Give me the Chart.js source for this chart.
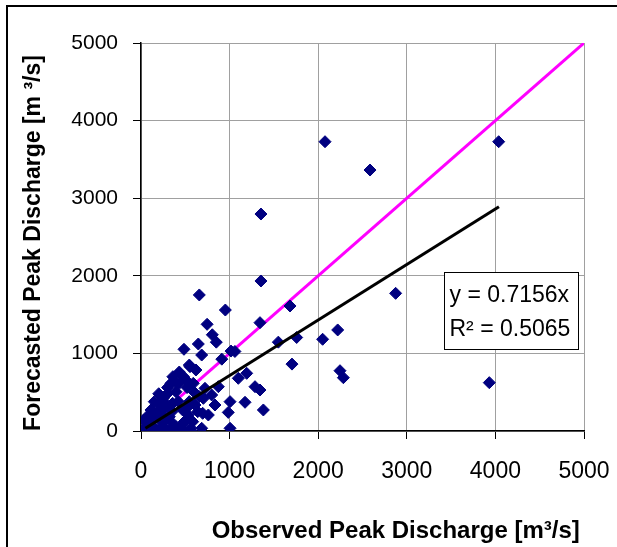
<!DOCTYPE html>
<html><head><meta charset="utf-8">
<script src="https://cdn.jsdelivr.net/npm/chart.js@4"></script>
<style>html,body{margin:0;padding:0;background:#fff}#wrap{width:617px;height:547px;position:relative}</style>
</head><body><div id="wrap"><canvas id="c" width="617" height="547"></canvas></div>
<script>
// Observed vs forecasted peak discharge (m3/s)
const observed = [2077,4037,2585,1354,1354,2874,3931,
  658,952,1682,1343,746,805,850,647,485,685,1016,1060,912,1550,1757,2050,2220,1704,2246,2284,
  1193,1098,1343,1287,1174,1005,985,1005,1381,835,760,685,478,609,534,798,704,873,553,590,722,
  545,432,620,508,338,301,395,207,113,56,545,658,640,489,395,245,132,320,470,245,432,150,357,
  583,564,432,301,169,696,
  80,200,260,350,300,180,100,40,220,340,520,600,360,480,300,200,150,260,420,520,380,250,120,60,460,560,330,180,90,30];
const forecasted = [3728,3728,3363,2796,1933,1774,623,
  1753,1559,1611,1396,1375,1240,1145,1121,1053,979,1030,1025,926,1145,1205,1182,1302,862,777,687,
  743,679,528,571,370,378,240,35,271,335,206,35,0,335,206,464,421,571,829,614,550,
  850,760,786,657,614,485,506,356,271,142,378,442,249,120,55,55,55,184,271,271,614,378,356,
  120,0,0,0,0,228,
  200,150,120,250,330,250,100,30,230,120,300,500,700,700,560,480,20,0,380,560,640,420,200,60,80,40,20,10,120,140];
const identityX = [0, 5000];
const identityY = [0, 5000];
const trendX = [50, 4040];
const trendY = [36, 2891];
const axisTicks = [0, 1000, 2000, 3000, 4000, 5000];
const xTitle = 'Observed Peak Discharge [m\u00B3/s]';
const yTitle = 'Forecasted Peak Discharge [m \u00B3/s]';
const equationLines = ['y = 0.7156x', 'R\u00B2 = 0.5065'];

const toPts = (xs, ys) => xs.map((x, i) => ({x, y: ys[i]}));
const FONT = "'Liberation Sans', Arial, sans-serif";

const framePlugin = {
  id: 'frame',
  beforeDraw(chart) {
    const ctx = chart.ctx;
    ctx.save();
    ctx.fillStyle = '#fff';
    ctx.fillRect(0, 0, chart.width, chart.height);
    ctx.strokeStyle = '#000';
    ctx.lineWidth = 2;
    ctx.beginPath();
    ctx.moveTo(7, 560); ctx.lineTo(7, 6); ctx.lineTo(640, 6);
    ctx.stroke();
    ctx.restore();
  },
  afterDraw(chart) {
    const ctx = chart.ctx;
    const area = chart.chartArea;
    ctx.save();
    // axis titles
    ctx.fillStyle = '#000';
    ctx.font = 'bold 24px ' + FONT;
    ctx.textAlign = 'center';
    ctx.textBaseline = 'alphabetic';
    ctx.fillText(xTitle, area.left + (area.right - area.left) * 0.575, 538);
    ctx.save();
    ctx.translate(40, (area.top + area.bottom) / 2 + 6);
    ctx.rotate(-Math.PI / 2);
    ctx.font = 'bold 23px ' + FONT;
    ctx.fillText(yTitle, 0, 0);
    ctx.restore();
    // trendline label box
    const bx = 444.5, by = 272.5, bw = 134, bh = 77;
    ctx.fillStyle = '#fff';
    ctx.fillRect(bx, by, bw, bh);
    ctx.strokeStyle = '#000';
    ctx.lineWidth = 1;
    ctx.strokeRect(bx, by, bw, bh);
    ctx.fillStyle = '#000';
    ctx.font = '23px ' + FONT;
    ctx.textAlign = 'left';
    ctx.fillText(equationLines[0], bx + 5, by + 29);
    ctx.fillText(equationLines[1], bx + 5, by + 63);
    ctx.restore();
  }
};

new Chart(document.getElementById('c'), {
  type: 'scatter',
  data: {
    datasets: [
      {
        type: 'line', data: toPts(trendX, trendY), borderColor: '#000', borderWidth: 3,
        pointRadius: 0, fill: false, order: 0
      },
      {
        data: toPts(observed, forecasted), backgroundColor: '#000080', borderColor: '#000080',
        pointStyle: 'rectRot', pointRadius: 6, borderWidth: 1, order: 1
      },
      {
        type: 'line', data: toPts(identityX, identityY), borderColor: '#FF00FF', borderWidth: 3,
        pointRadius: 0, fill: false, order: 2
      }
    ]
  },
  options: {
    responsive: false, animation: false, devicePixelRatio: 1,
    layout: { padding: { top: 43, right: 33, left: 0, bottom: 0 } },
    plugins: { legend: { display: false }, tooltip: { enabled: false } },
    scales: {
      x: {
        type: 'linear', min: 0, max: 5000,
        afterBuildTicks: s => { s.ticks = axisTicks.map(v => ({value: v})); },
        afterFit: s => { s.height = 116; s.paddingLeft = 0; s.paddingRight = 0; },
        ticks: { color: '#000', font: { family: FONT, size: 23 }, padding: 19, maxRotation: 0, callback: v => String(v) },
        grid: { color: '#a0a0a0', lineWidth: 1, tickLength: 8, tickColor: '#000' },
        border: { color: '#000', width: 1.5 },
        title: { display: false }
      },
      y: {
        type: 'linear', min: 0, max: 5000,
        afterBuildTicks: s => { s.ticks = axisTicks.map(v => ({value: v})); },
        afterFit: s => { s.width = 141; s.paddingTop = 0; s.paddingBottom = 0; },
        ticks: { color: '#000', font: { family: FONT, size: 21 }, padding: 15, callback: v => String(v) },
        grid: { color: '#a0a0a0', lineWidth: 1, tickLength: 8, tickColor: '#000' },
        border: { color: '#000', width: 1.5 },
        title: { display: false }
      }
    }
  },
  plugins: [framePlugin]
});
</script>
</body></html>
